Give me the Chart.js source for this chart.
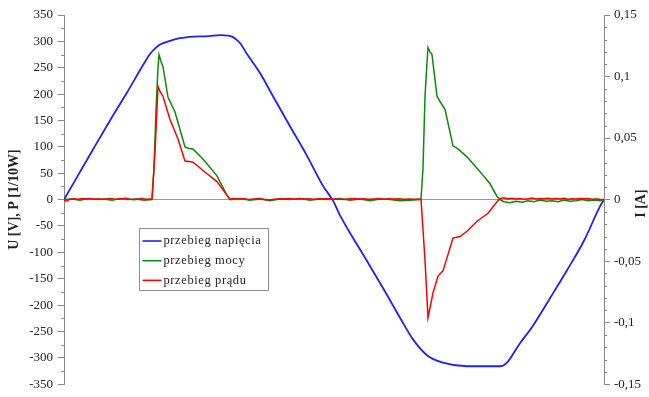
<!DOCTYPE html>
<html>
<head>
<meta charset="utf-8">
<script src="https://cdn.jsdelivr.net/npm/chart.js@4/dist/chart.umd.min.js"></script>
<style>
html,body{margin:0;padding:0;background:#fff;}
#wrap{width:649px;height:397px;position:relative;}
</style>
</head>
<body>
<div id="wrap"><canvas id="c" width="649" height="397"></canvas></div>
<script>
// ---- data (time in samples, 0..540) ----
const seriesLabels = ['przebieg napięcia', 'przebieg mocy', 'przebieg prądu'];
const leftAxisTitle = 'U [V], P [1/10W]';
const rightAxisTitle = 'I [A]';

// voltage U [V]
const uTime = [0,29,46,63,80,86,92,96,106,116,130,145,156,164,168,172,176,183,196,209,226,243,259,269,276,300,320,336,349,363,379,403,436,443,455,469,486,503,520,536,540];
const uValues = [0,95,150,203,258,276,288,294,301,306,309,310,312,311,309,304,297,276,240,196,139,83,26,-2,-30,-107,-171,-224,-265,-295,-309,-316,-316,-309,-275,-239,-187,-134,-78,-13,0];

// power P [1/10 W]
const pTime = [0,8,16,24,32,40,48,56,64,72,80,88,90,92,94,95,97,99,104,111,121,125,129,139,153,163,166,
  176,186,196,206,216,226,236,246,256,266,276,286,296,306,316,326,336,346,357,
  359,361,363,364,366,368,373,376,381,389,394,403,416,426,433,436,
  440,446,452,458,464,470,476,482,488,494,500,506,512,518,524,530,536,540];
const pValues = [0,1,-1,2,0,1,-1,2,0,1,-1,0,60,170,250,275,262,252,194,166,100,97,96,77,45,8,0,
  2,-1,1,-2,1,0,2,-1,1,0,2,-1,1,-2,1,0,-2,-1,0,
  60,196,260,288,280,275,196,186,171,102,96,81,53,30,6,0,
  -4,-6,-3,-5,-2,-4,-1,-3,-2,-4,-1,-3,-2,0,-2,-1,-2,0];

// current I [A]
const iTime = [0,3,6,10,14,18,22,26,30,34,38,42,46,50,54,58,62,66,70,74,78,82,86,88,
  91,94,96,99,106,114,121,125,129,143,153,163,166,
  170,175,180,185,190,195,200,205,210,215,220,225,230,235,240,245,250,255,260,265,270,275,280,285,290,295,300,305,310,315,320,325,330,335,340,345,350,355,357,
  361,364,369,374,379,389,396,403,413,424,433,436,
  440,444,448,452,456,460,464,468,472,476,480,484,488,492,496,500,504,508,512,516,520,524,528,532,536,540];
const iValues = [-0.001,-0.0012,0.0003,0.0006,0.0002,0.0008,0.0004,0.0009,0.0003,0.0007,0.0001,0.0005,0.0009,0.0004,0.0002,0.0006,0.0011,0.0003,-0.0002,0.0004,0.0008,0.0003,0.0005,0.0005,
  0.0386,0.0921,0.0879,0.084,0.0651,0.0493,0.0313,0.0309,0.0304,0.021,0.0146,0.0034,0.0003,
  0.0008,0.0004,0.0006,0.0001,0.0005,0.0009,0.0002,-0.0004,0.0003,0.0007,0.0004,0.0008,0.0003,0.0009,0.0005,0.0007,0.0002,0.0006,0.0004,0.0008,0.0003,0.0005,0.0001,0.0006,0.0009,0.0004,0.0007,0.0002,0.0005,0.0008,0.0003,0.0006,0.0004,0.0007,0.0002,0.0005,0.0003,0.0004,0.0002,
  -0.0493,-0.096,-0.0759,-0.0621,-0.0579,-0.0313,-0.03,-0.0257,-0.0176,-0.0111,-0.0017,0.0009,
  0.0014,0.0006,0.0011,0.0004,0.0008,0.0003,0.0007,0.0012,0.0005,0.0009,0.0006,0.0011,0.0004,0.0008,0.0005,0.001,0.0003,0.0007,0.0004,0.0009,0.0006,0.0008,0.0003,0.0005,0.0002,0.0001];

const leftTicks = [-350,-300,-250,-200,-150,-100,-50,0,50,100,150,200,250,300,350];
const rightTicks = [-0.15,-0.1,-0.05,0,0.05,0.1,0.15];

const colors = ['#1f1fff', '#0a8a0a', '#ff0000'];
const toXY = (t, v) => t.map((x, k) => ({x: x, y: v[k]}));

const serif = '"Liberation Serif", "DejaVu Serif", serif';
const axisGray = '#8a8a8a';

const extras = {
  id: 'extras',
  afterDraw(chart) {
    const ctx = chart.ctx;
    ctx.save();
    ctx.strokeStyle = axisGray;
    ctx.lineWidth = 1;
    const yl = chart.scales.y;
    for (let v = -350; v <= 350; v += 25) {
      if (v % 50 === 0) continue;
      const py = Math.round(yl.getPixelForValue(v)) + 0.5;
      ctx.beginPath(); ctx.moveTo(yl.right - 3, py); ctx.lineTo(yl.right, py); ctx.stroke();
    }
    const yr = chart.scales.y1;
    for (let k = -15; k <= 15; k++) {
      if (k % 5 === 0) continue;
      const py = Math.round(yr.getPixelForValue(k / 100)) + 0.5;
      ctx.beginPath(); ctx.moveTo(yr.left, py); ctx.lineTo(yr.left + 3, py); ctx.stroke();
    }
    // axis titles
    ctx.fillStyle = '#222';
    ctx.font = 'bold 14px ' + serif;
    ctx.textAlign = 'center';
    ctx.textBaseline = 'middle';
    const ca = chart.chartArea;
    ctx.save();
    ctx.translate(14, (ca.top + ca.bottom) / 2);
    ctx.rotate(-Math.PI / 2);
    ctx.fillText(leftAxisTitle, 0, 0);
    ctx.restore();
    ctx.save();
    ctx.translate(641, (ca.top + ca.bottom) / 2 + 4);
    ctx.rotate(-Math.PI / 2);
    ctx.fillText(rightAxisTitle, 0, 0);
    ctx.restore();
    // legend
    const lx = ca.left + 75.5, ly = ca.top + 213.5, lw = 129, lh = 62;
    ctx.fillStyle = '#fff';
    ctx.fillRect(lx, ly, lw, lh);
    ctx.strokeStyle = '#8c8c8c';
    ctx.strokeRect(lx, ly, lw, lh);
    ctx.font = '12.5px ' + serif;
    try { ctx.letterSpacing = '0.6px'; } catch (e) {}
    ctx.textAlign = 'left';
    ctx.fillStyle = '#222';
    chart.data.datasets.forEach((ds, k) => {
      const yy = ly + 12.5 + k * 19.7;
      ctx.strokeStyle = ds.borderColor;
      ctx.lineWidth = 1.6;
      ctx.beginPath(); ctx.moveTo(lx + 3, yy); ctx.lineTo(lx + 22, yy); ctx.stroke();
      ctx.fillText(ds.label, lx + 24, yy);
    });
    ctx.restore();
  }
};

new Chart(document.getElementById('c'), {
  type: 'line',
  data: {
    datasets: [
      {label: seriesLabels[0], data: toXY(uTime, uValues), yAxisID: 'y', borderColor: colors[0], borderWidth: 1.8, pointRadius: 0, cubicInterpolationMode: 'monotone', order: 2},
      {label: seriesLabels[1], data: toXY(pTime, pValues), yAxisID: 'y', borderColor: colors[1], borderWidth: 1.5, pointRadius: 0, tension: 0, order: 1},
      {label: seriesLabels[2], data: toXY(iTime, iValues), yAxisID: 'y1', borderColor: colors[2], borderWidth: 1.5, pointRadius: 0, tension: 0, order: 0}
    ]
  },
  options: {
    responsive: false,
    animation: false,
    events: [],
    layout: {padding: {top: 15, bottom: 11, left: 0, right: 0}},
    plugins: {legend: {display: false}, tooltip: {enabled: false}},
    scales: {
      x: {type: 'linear', min: 0, max: 540, display: false},
      y: {
        position: 'left', min: -350, max: 350,
        afterFit(s) { s.width = 64; },
        afterBuildTicks(s) { s.ticks = leftTicks.map(v => ({value: v})); },
        ticks: {font: {family: serif, size: 13}, color: '#222', padding: 5, callback: v => String(v)},
        grid: {
          drawOnChartArea: true, drawTicks: true, tickLength: 6,
          color: c => (c.tick && c.tick.value === 0) ? '#9a9a9a' : 'rgba(0,0,0,0)',
          tickColor: axisGray, lineWidth: 1
        },
        border: {display: true, color: axisGray, width: 1}
      },
      y1: {
        position: 'right', min: -0.15, max: 0.15,
        afterFit(s) { s.width = 45; },
        afterBuildTicks(s) { s.ticks = rightTicks.map(v => ({value: v})); },
        ticks: {font: {family: serif, size: 13}, color: '#222', padding: 4,
          callback: v => String(parseFloat(Number(v).toFixed(2))).replace('.', ',')},
        grid: {drawOnChartArea: false, drawTicks: true, tickLength: 6, tickColor: axisGray},
        border: {display: true, color: axisGray, width: 1}
      }
    }
  },
  plugins: [extras]
});
</script>
</body>
</html>
